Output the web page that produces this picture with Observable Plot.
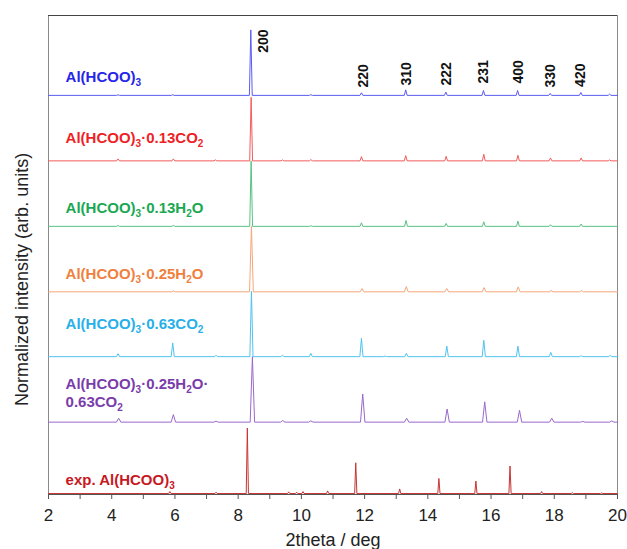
<!DOCTYPE html>
<html>
<head>
<meta charset="utf-8">
<script src="https://cdn.jsdelivr.net/npm/d3@7"></script>
<script src="https://cdn.jsdelivr.net/npm/@observablehq/plot@0.6"></script>
<style>
  html, body { margin: 0; padding: 0; background: #fff; }
  #chart { width: 627px; height: 549px; overflow: hidden; }
</style>
</head>
<body>
<div id="chart"></div>
<script>
// ---- data ----
const seriesNames = ["Al(HCOO)_3", "Al(HCOO)_3·0.13CO_2", "Al(HCOO)_3·0.13H_2O", "Al(HCOO)_3·0.25H_2O", "Al(HCOO)_3·0.63CO_2", "Al(HCOO)_3·0.25H_2O·0.63CO_2", "exp. Al(HCOO)_3"];
// vertical stacking offset (normalized units)
const offsets = [6.08, 5.08, 4.08, 3.08, 2.09, 1.09, 0];
// peak half-widths at base (deg 2theta)
const halfWidths = [0.045, 0.045, 0.045, 0.06, 0.05, 0.07, 0.035];
// peaks: [2theta, normalized intensity]
const peaksBlue = [[4.2,0.01],[5.93,0.01],[8.40,1.0],[10.3,0.012],[11.9,0.04],[13.3,0.085],[14.57,0.05],[15.76,0.075],[16.84,0.075],[17.87,0.03],[18.84,0.045],[19.75,0.02]];
const peaksRed = [[4.2,0.03],[5.95,0.03],[7.28,0.015],[8.41,0.97],[9.4,0.015],[10.3,0.02],[11.9,0.065],[13.3,0.08],[14.58,0.07],[15.77,0.1],[16.85,0.085],[17.88,0.045],[18.85,0.045],[19.75,0.015]];
const peaksGreen = [[4.2,0.015],[5.95,0.015],[8.41,1.0],[10.3,0.01],[11.9,0.055],[13.31,0.09],[14.58,0.045],[15.77,0.07],[16.85,0.08],[17.88,0.025],[18.85,0.035]];
const peaksOrange = [[5.95,0.015],[8.42,1.0],[11.92,0.05],[13.32,0.08],[14.6,0.05],[15.78,0.065],[16.86,0.075],[17.9,0.02],[18.86,0.02]];
const peaksCyan = [[4.2,0.045],[5.93,0.21],[7.3,0.02],[8.42,1.0],[9.4,0.02],[10.3,0.05],[11.9,0.28],[12.65,0.01],[13.32,0.05],[14.6,0.16],[15.77,0.25],[16.85,0.16],[17.89,0.065],[18.85,0.015],[19.77,0.02]];
const peaksPurple = [[4.22,0.06],[5.95,0.115],[7.3,0.015],[8.45,1.0],[9.41,0.025],[10.3,0.02],[11.94,0.43],[13.33,0.06],[14.61,0.2],[15.8,0.31],[16.9,0.18],[17.92,0.06],[18.9,0.012],[19.82,0.018]];
const peaksExp = [[5.84,0.03],[7.3,0.02],[8.29,1.0],[9.6,0.025],[9.85,0.02],[10.05,0.03],[10.83,0.04],[11.72,0.47],[13.11,0.07],[14.35,0.23],[15.52,0.19],[16.6,0.42],[17.6,0.03],[18.57,0.015],[19.5,0.01]];
const allPeaks = [peaksBlue, peaksRed, peaksGreen, peaksOrange, peaksCyan, peaksPurple, peaksExp];

const lineColors = ["#5b5bf2", "#f25c5c", "#58c283", "#f5a678", "#4fc3f0", "#9a68cc", "#c93434"];
const labelColors = ["#2626e8", "#ee1f26", "#1aa852", "#f0803e", "#27b0ea", "#7a3caa", "#c8181f"];

// series labels: text, x, y (baseline), series index
const labelTexts = ["Al(HCOO)_3", "Al(HCOO)_3·0.13CO_2", "Al(HCOO)_3·0.13H_2O", "Al(HCOO)_3·0.25H_2O", "Al(HCOO)_3·0.63CO_2", "Al(HCOO)_3·0.25H_2O·", "0.63CO_2", "exp. Al(HCOO)_3"];
const labelX = [2.54, 2.54, 2.54, 2.54, 2.54, 2.54, 2.54, 2.54];
const labelY = [6.28, 5.36, 4.29, 3.28, 2.52, 1.59, 1.32, 0.137];
const labelSeries = [0, 1, 2, 3, 4, 5, 5, 6];

// Miller indices
const hklTexts = ["200", "220", "310", "222", "231", "400", "330", "420"];
const hklX = [8.80, 11.97, 13.33, 14.59, 15.76, 16.86, 17.89, 18.84];
const hklY = [6.73, 6.20, 6.23, 6.23, 6.26, 6.26, 6.20, 6.21];

const xTicks = [2, 4, 6, 8, 10, 12, 14, 16, 18, 20];
const xMinorTicks = [3, 5, 7, 9, 11, 13, 15, 17, 19];

// ---- build tables ----
const rows = [];
allPeaks.forEach((peaks, i) => {
  const o = offsets[i], w = halfWidths[i], c = lineColors[i];
  rows.push({s: i, x: 2, y: o, c});
  peaks.forEach(([p, h]) => {
    rows.push({s: i, x: p - w, y: o, c});
    rows.push({s: i, x: p, y: o + h, c});
    rows.push({s: i, x: p + w, y: o, c});
  });
  rows.push({s: i, x: 20, y: o, c});
});
const labels = labelTexts.map((t, i) => ({t, x: labelX[i], y: labelY[i], c: labelColors[labelSeries[i]]}));
const hkl = hklTexts.map((t, i) => ({t, x: hklX[i], y: hklY[i]}));

const plot = Plot.plot({
  width: 627,
  height: 549,
  marginLeft: 48,
  marginRight: 10,
  marginTop: 15,
  marginBottom: 55,
  style: {fontFamily: "'Liberation Sans', Arial, sans-serif", background: "#fff", overflow: "visible"},
  x: {domain: [2, 20]},
  y: {domain: [-0.015, 7.3], axis: null},
  color: {type: "identity"},
  marks: [
    Plot.frame({stroke: "#8a8a8a", strokeWidth: 1}),
    Plot.ruleY([7.3], {stroke: "#444", strokeWidth: 1}),
    Plot.line(rows, {x: "x", y: "y", z: "s", stroke: "c", strokeWidth: 1}),
    Plot.ruleY([-0.015], {stroke: "#555", strokeWidth: 1}),
    Plot.axisX({ticks: xMinorTicks, tickSize: 5, text: null, stroke: "#555", label: null}),
    Plot.axisX({ticks: xTicks, tickSize: 5, tickPadding: 9, fontSize: 17, fill: "#222", stroke: "#555", label: null}),
    Plot.text(labels, {x: "x", y: "y", text: "t", fill: "c", textAnchor: "start", lineAnchor: "bottom", fontSize: 15, fontWeight: "bold"}),
    Plot.text(hkl, {x: "x", y: "y", text: "t", rotate: -90, textAnchor: "start", lineAnchor: "middle", fontSize: 14, fontWeight: "bold", fill: "#111"}),
    Plot.text(["Normalized intensity (arb. units)"], {x: 2, y: 3.27, dx: -26, rotate: -90, lineAnchor: "middle", fontSize: 18, fill: "#222"}),
    Plot.text(["2theta / deg"], {frameAnchor: "bottom", dy: 51, lineAnchor: "bottom", fontSize: 18, fill: "#222"})
  ]
});

// subscripts: "_d" -> lowered smaller digit
plot.querySelectorAll("text").forEach(t => {
  const s = t.textContent;
  if (!s.includes("_") || t.querySelector("tspan")) return;
  t.textContent = "";
  const parts = s.split(/(_\d)/).filter(p => p);
  let shifted = false;
  for (const p of parts) {
    const ts = document.createElementNS("http://www.w3.org/2000/svg", "tspan");
    if (p.startsWith("_")) {
      ts.textContent = p.slice(1);
      ts.setAttribute("font-size", "10");
      ts.setAttribute("dy", "4");
      shifted = true;
    } else {
      ts.textContent = p;
      if (shifted) { ts.setAttribute("dy", "-4"); shifted = false; }
    }
    t.appendChild(ts);
  }
});

document.getElementById("chart").appendChild(plot);
</script>
</body>
</html>
